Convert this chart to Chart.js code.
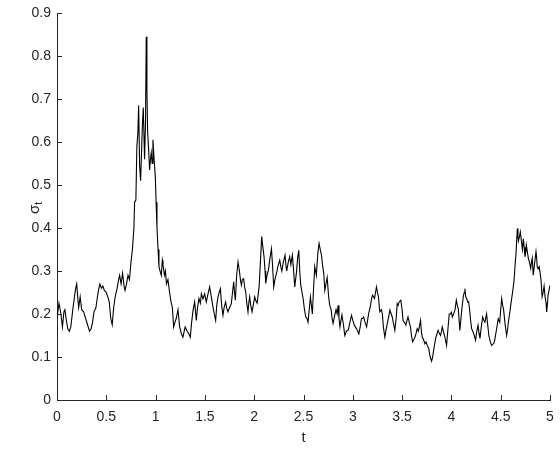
<!DOCTYPE html>
<html>
<head>
<meta charset="utf-8">
<script src="https://cdn.jsdelivr.net/npm/chart.js@4.4.1/dist/chart.umd.min.js"></script>
<style>
html,body{margin:0;padding:0;background:#fff;}
#wrap{width:560px;height:450px;}
</style>
</head>
<body>
<div id="wrap"><canvas id="c" width="560" height="450"></canvas></div>
<script>
const timeValues = [
0.00,0.02,0.04,0.055,0.07,0.08,0.095,0.11,0.125,0.14,0.16,0.18,0.19,0.20,0.21,0.22,0.235,0.25,0.27,0.29,
0.31,0.33,0.345,0.36,0.375,0.395,0.41,0.425,0.435,0.45,0.465,0.48,0.50,0.515,0.53,0.545,0.56,0.575,0.59,0.61,
0.625,0.635,0.65,0.665,0.68,0.69,0.705,0.72,0.735,0.75,0.765,0.78,0.787,0.80,0.81,0.82,0.828,0.838,0.848,0.858,
0.865,0.875,0.888,0.898,0.905,0.912,0.919,0.93,0.939,0.948,0.956,0.965,0.973,0.985,0.997,1.005,1.014,1.025,1.034,1.045,
1.058,1.068,1.075,1.09,1.10,1.11,1.125,1.142,1.155,1.17,1.183,1.195,1.21,1.227,1.244,1.26,1.277,1.29,1.30,1.32,
1.335,1.352,1.365,1.38,1.396,1.413,1.425,1.44,1.454,1.464,1.48,1.497,1.514,1.53,1.548,1.565,1.582,1.595,1.609,1.62,
1.633,1.645,1.657,1.67,1.683,1.695,1.71,1.72,1.734,1.75,1.768,1.78,1.792,1.80,1.809,1.822,1.836,1.85,1.86,1.87,
1.88,1.893,1.905,1.914,1.925,1.937,1.945,1.954,1.965,1.978,1.99,2.005,2.018,2.03,2.04,2.05,2.065,2.076,2.088,2.10,
2.11,2.117,2.13,2.144,2.16,2.175,2.187,2.198,2.21,2.225,2.24,2.259,2.27,2.28,2.295,2.313,2.323,2.33,2.345,2.36,
2.372,2.387,2.40,2.411,2.42,2.43,2.44,2.452,2.462,2.472,2.485,2.496,2.51,2.523,2.535,2.546,2.558,2.57,2.58,2.59,
2.60,2.614,2.63,2.645,2.658,2.67,2.682,2.695,2.706,2.716,2.728,2.74,2.755,2.766,2.78,2.79,2.80,2.815,2.83,2.841,
2.851,2.86,2.87,2.88,2.89,2.905,2.919,2.935,2.955,2.97,2.987,3.0,3.01,3.025,3.037,3.05,3.061,3.075,3.088,3.1,
3.11,3.125,3.14,3.15,3.16,3.17,3.18,3.19,3.2,3.21,3.22,3.23,3.24,3.25,3.26,3.274,3.29,3.30,3.31,3.325,
3.335,3.35,3.365,3.376,3.39,3.40,3.415,3.426,3.44,3.45,3.46,3.47,3.487,3.5,3.51,3.525,3.538,3.55,3.56,3.573,
3.585,3.595,3.606,3.618,3.63,3.642,3.653,3.665,3.675,3.687,3.695,3.705,3.718,3.731,3.743,3.755,3.77,3.785,3.799,3.81,
3.82,3.83,3.843,3.855,3.865,3.878,3.89,3.9,3.907,3.918,3.93,3.94,3.951,3.963,3.978,3.99,4.0,4.01,4.022,4.036,
4.05,4.06,4.07,4.08,4.086,4.095,4.105,4.12,4.13,4.137,4.145,4.155,4.165,4.175,4.185,4.195,4.205,4.22,4.232,4.245,
4.258,4.27,4.28,4.29,4.303,4.317,4.33,4.34,4.357,4.368,4.38,4.395,4.408,4.42,4.43,4.44,4.45,4.462,4.475,4.49,
4.5,4.51,4.52,4.53,4.545,4.56,4.57,4.58,4.59,4.604,4.62,4.634,4.645,4.655,4.662,4.669,4.675,4.68,4.69,4.699,
4.71,4.72,4.73,4.738,4.746,4.755,4.76,4.77,4.78,4.792,4.804,4.812,4.82,4.83,4.845,4.858,4.865,4.87,4.88,4.89,
4.9,4.909,4.92,4.93,4.94,4.95,4.96,4.966,4.975,4.98,4.99,5.0
];
const sigmaValues = [
0.19,0.225,0.20,0.17,0.205,0.21,0.185,0.165,0.16,0.17,0.21,0.245,0.26,0.27,0.24,0.215,0.24,0.21,0.205,0.19,
0.175,0.16,0.165,0.18,0.205,0.215,0.24,0.26,0.27,0.26,0.265,0.255,0.25,0.24,0.228,0.19,0.175,0.215,0.24,0.26,
0.28,0.29,0.27,0.295,0.265,0.255,0.27,0.29,0.28,0.32,0.35,0.40,0.46,0.465,0.59,0.62,0.685,0.545,0.51,0.58,
0.635,0.68,0.56,0.65,0.845,0.72,0.625,0.58,0.535,0.56,0.575,0.55,0.605,0.56,0.52,0.46,0.40,0.35,0.31,0.30,
0.29,0.325,0.315,0.29,0.30,0.27,0.28,0.25,0.23,0.215,0.17,0.18,0.19,0.21,0.17,0.155,0.146,0.16,0.17,0.16,
0.155,0.146,0.18,0.209,0.228,0.185,0.215,0.236,0.225,0.247,0.235,0.247,0.228,0.245,0.263,0.24,0.216,0.2,0.185,0.22,
0.24,0.25,0.259,0.22,0.197,0.215,0.228,0.215,0.205,0.215,0.224,0.25,0.275,0.25,0.232,0.29,0.321,0.30,0.28,0.267,
0.28,0.282,0.26,0.251,0.225,0.205,0.225,0.24,0.22,0.205,0.22,0.24,0.23,0.225,0.245,0.263,0.33,0.38,0.355,0.333,
0.30,0.271,0.29,0.302,0.33,0.352,0.31,0.263,0.28,0.294,0.31,0.325,0.31,0.30,0.32,0.337,0.31,0.30,0.32,0.333,
0.315,0.337,0.30,0.263,0.28,0.30,0.33,0.348,0.30,0.267,0.25,0.236,0.21,0.193,0.19,0.181,0.21,0.24,0.22,0.20,
0.25,0.31,0.29,0.34,0.364,0.35,0.337,0.31,0.294,0.255,0.27,0.285,0.24,0.22,0.21,0.19,0.178,0.195,0.21,0.2,
0.22,0.19,0.17,0.185,0.198,0.175,0.15,0.16,0.163,0.18,0.197,0.185,0.178,0.17,0.166,0.16,0.154,0.17,0.189,0.19,
0.193,0.18,0.17,0.185,0.20,0.21,0.22,0.235,0.244,0.24,0.236,0.25,0.263,0.25,0.24,0.205,0.21,0.20,0.17,0.146,
0.16,0.178,0.195,0.209,0.2,0.193,0.175,0.162,0.19,0.224,0.22,0.228,0.232,0.21,0.185,0.18,0.174,0.185,0.193,0.18,
0.17,0.15,0.135,0.14,0.146,0.155,0.166,0.16,0.17,0.185,0.16,0.146,0.14,0.131,0.135,0.127,0.12,0.10,0.09,0.10,
0.116,0.13,0.146,0.155,0.162,0.155,0.15,0.16,0.17,0.16,0.15,0.14,0.127,0.16,0.20,0.2,0.204,0.193,0.2,0.209,
0.232,0.22,0.212,0.18,0.162,0.185,0.209,0.24,0.25,0.259,0.24,0.236,0.228,0.229,0.209,0.185,0.166,0.158,0.15,0.139,
0.16,0.174,0.155,0.143,0.17,0.193,0.185,0.181,0.20,0.175,0.15,0.135,0.127,0.13,0.131,0.14,0.154,0.17,0.189,0.181,
0.21,0.236,0.22,0.209,0.175,0.15,0.165,0.185,0.2,0.224,0.25,0.275,0.31,0.341,0.37,0.399,0.38,0.37,0.38,0.391,
0.37,0.35,0.375,0.355,0.333,0.345,0.36,0.345,0.33,0.32,0.306,0.32,0.33,0.29,0.32,0.345,0.33,0.31,0.305,0.31,
0.295,0.279,0.24,0.25,0.265,0.24,0.225,0.205,0.225,0.244,0.255,0.267
];
const xTicks = [0,0.5,1,1.5,2,2.5,3,3.5,4,4.5,5];
const xTickLabels = ['0','0.5','1','1.5','2','2.5','3','3.5','4','4.5','5'];
const yTicks = [0,0.1,0.2,0.3,0.4,0.5,0.6,0.7,0.8,0.9];
const yTickLabels = ['0','0.1','0.2','0.3','0.4','0.5','0.6','0.7','0.8','0.9'];
const xTitle = 't';
const yTitleMain = 'σ';
const yTitleSub = 't';

const AX = '#262626';
const FONT = 'Liberation Sans, Arial, Helvetica, sans-serif';

const points = timeValues.map((t, i) => ({x: t, y: sigmaValues[i]}));

const decor = {
  id: 'decor',
  afterDraw(chart) {
    const ctx = chart.ctx;
    const a = chart.chartArea;
    const xs = chart.scales.x, ys = chart.scales.y;
    ctx.save();
    ctx.strokeStyle = AX;
    ctx.lineWidth = 1;
    ctx.beginPath();
    xTicks.forEach(v => {
      const px = Math.round(xs.getPixelForValue(v)) + 0.5;
      ctx.moveTo(px, a.bottom);
      ctx.lineTo(px, a.bottom - 5);
    });
    yTicks.forEach(v => {
      const py = Math.round(ys.getPixelForValue(v)) + 0.5;
      ctx.moveTo(a.left, py);
      ctx.lineTo(a.left + 5, py);
    });
    ctx.stroke();
    ctx.fillStyle = AX;
    ctx.textAlign = 'center';
    ctx.textBaseline = 'middle';
    ctx.font = '15px ' + FONT;
    ctx.fillText(xTitle, (a.left + a.right) / 2, 438);
    ctx.translate(35, 206);
    ctx.rotate(-Math.PI / 2);
    ctx.textAlign = 'left';
    ctx.font = '15px ' + FONT;
    ctx.fillText(yTitleMain, -8, 0);
    const w = ctx.measureText(yTitleMain).width;
    ctx.font = '11px ' + FONT;
    ctx.fillText(yTitleSub, -8 + w, 4);
    ctx.restore();
  }
};

new Chart(document.getElementById('c'), {
  type: 'line',
  data: {
    datasets: [{
      data: points,
      borderColor: '#000000',
      borderWidth: 1.1,
      pointRadius: 0,
      tension: 0,
      fill: false
    }]
  },
  options: {
    responsive: false,
    animation: false,
    devicePixelRatio: 1,
    layout: {padding: {top: 13, right: 10, left: 0, bottom: 0}},
    plugins: {legend: {display: false}, tooltip: {enabled: false}},
    scales: {
      x: {
        type: 'linear', min: 0, max: 5,
        afterBuildTicks: s => { s.ticks = xTicks.map(v => ({value: v})); },
        afterFit: s => { s.height = 50; s.paddingLeft = 0; s.paddingRight = 0; },
        grid: {display: false, drawTicks: false},
        border: {display: true, color: AX, width: 1},
        ticks: {
          color: AX, font: {family: FONT, size: 14}, padding: 9,
          maxRotation: 0, autoSkip: false,
          callback: (v) => { const i = xTicks.indexOf(v); return i >= 0 ? xTickLabels[i] : ''; }
        }
      },
      y: {
        type: 'linear', min: 0, max: 0.9,
        afterBuildTicks: s => { s.ticks = yTicks.map(v => ({value: v})); },
        afterFit: s => { s.width = 57; s.paddingTop = 0; s.paddingBottom = 0; },
        grid: {display: false, drawTicks: false},
        border: {display: true, color: AX, width: 1},
        ticks: {
          color: AX, font: {family: FONT, size: 14}, padding: 6,
          autoSkip: false,
          callback: (v) => { const i = yTicks.findIndex(t => Math.abs(t - v) < 1e-9); return i >= 0 ? yTickLabels[i] : ''; }
        }
      }
    }
  },
  plugins: [decor]
});
</script>
</body>
</html>
